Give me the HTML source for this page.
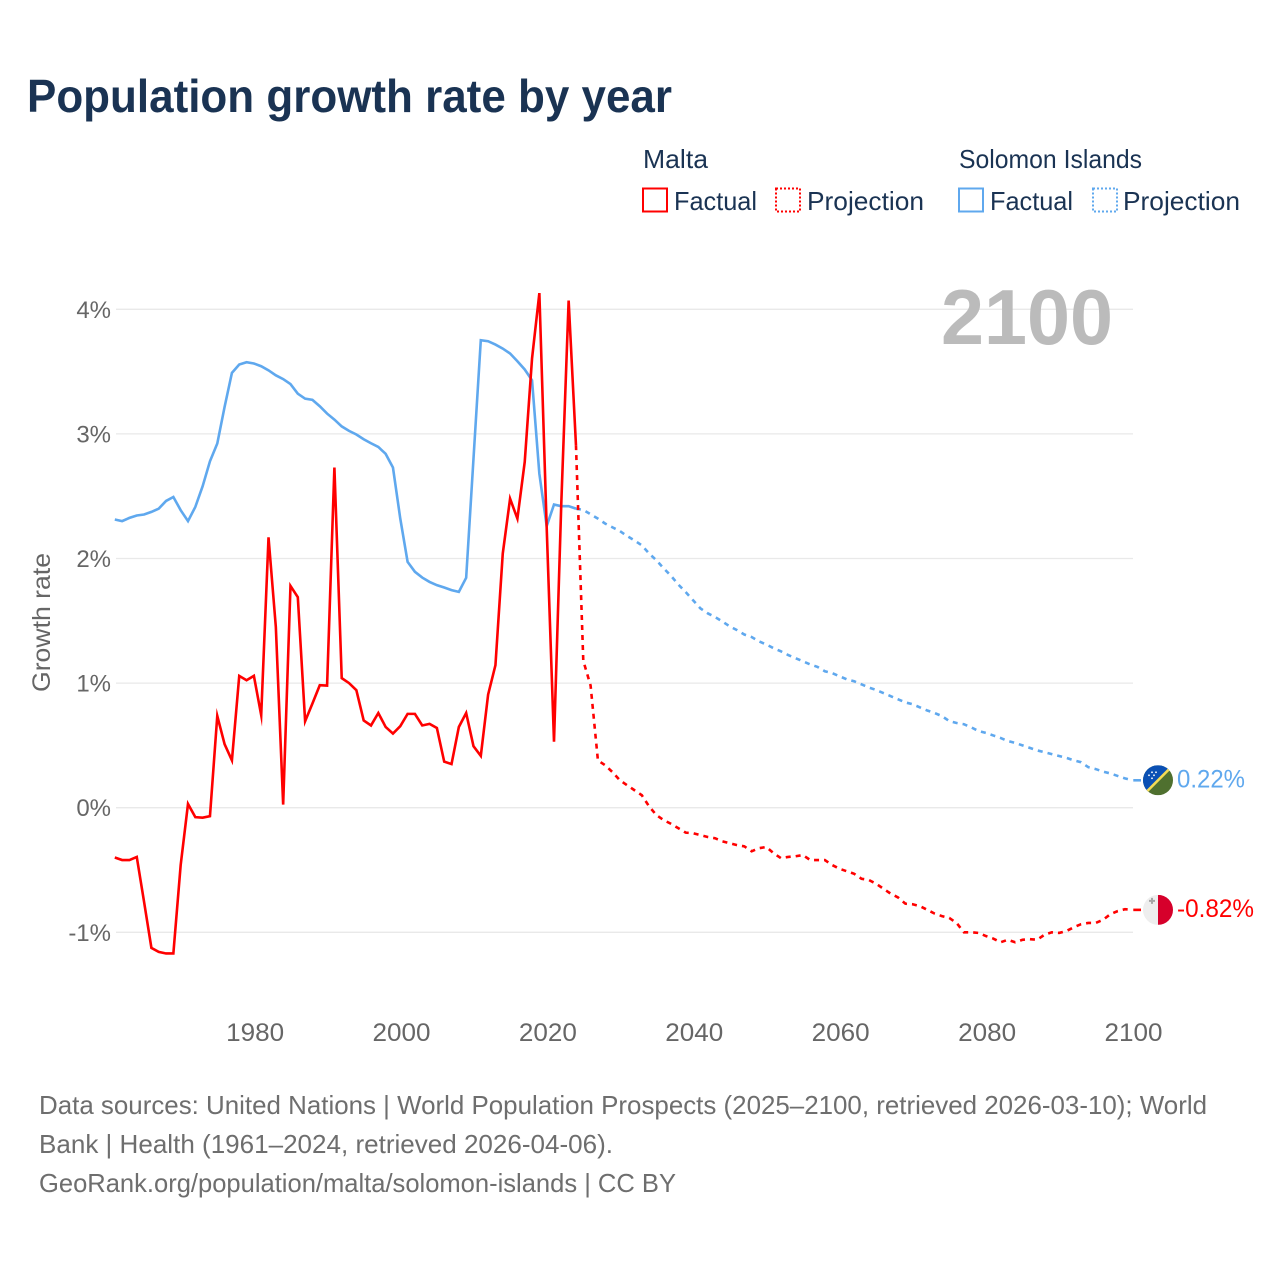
<!DOCTYPE html>
<html lang="en">
<head>
<meta charset="utf-8">
<title>Population growth rate by year</title>
<style>
html,body{margin:0;padding:0;background:#fff;width:1280px;height:1280px;overflow:hidden}
svg{display:block}
text{font-family:"Liberation Sans",sans-serif}
</style>
</head>
<body>
<svg id="chart" xmlns="http://www.w3.org/2000/svg" width="1280" height="1280" viewBox="0 0 1280 1280">
  <defs>
    <clipPath id="flag-clip-solomon"><circle id="clip-solomon-circle" cx="1158" cy="780" r="15"/></clipPath>
    <clipPath id="flag-clip-malta"><circle id="clip-malta-circle" cx="1158" cy="910" r="15"/></clipPath>
  </defs>
  <text x="27" y="112" font-size="46" font-weight="700" fill="#1a3353" textLength="645" lengthAdjust="spacingAndGlyphs">Population growth rate by year</text>

  <g font-size="26" fill="#1a3353">
    <text x="643" y="168" textLength="65" lengthAdjust="spacingAndGlyphs">Malta</text>
    <text x="959" y="168" textLength="183" lengthAdjust="spacingAndGlyphs">Solomon Islands</text>
    <rect x="643" y="188.5" width="24" height="23" fill="none" stroke="#ff0000" stroke-width="2"/>
    <text x="674" y="210" textLength="83" lengthAdjust="spacingAndGlyphs">Factual</text>
    <rect x="776" y="188.5" width="24" height="23" fill="none" stroke="#ff0000" stroke-width="2" stroke-dasharray="2 2"/>
    <text x="807" y="210" textLength="117" lengthAdjust="spacingAndGlyphs">Projection</text>
    <rect x="959" y="188.5" width="24" height="23" fill="none" stroke="#5fa8ee" stroke-width="2"/>
    <text x="990" y="210" textLength="83" lengthAdjust="spacingAndGlyphs">Factual</text>
    <rect x="1093" y="188.5" width="24" height="23" fill="none" stroke="#5fa8ee" stroke-width="2" stroke-dasharray="2 2"/>
    <text x="1123" y="210" textLength="117" lengthAdjust="spacingAndGlyphs">Projection</text>
  </g>

  <g id="grid"></g>
  <g id="y-ticks"></g>
  <g id="x-ticks"></g>
  <text transform="translate(50,622.5) rotate(-90)" text-anchor="middle" font-size="25" fill="#666666" textLength="139" lengthAdjust="spacingAndGlyphs">Growth rate</text>
  <text x="941" y="344" font-size="78" font-weight="700" fill="#bbbbbb" textLength="172" lengthAdjust="spacingAndGlyphs">2100</text>

  <g id="series"></g>

  <g id="flag-solomon">
    <g clip-path="url(#flag-clip-solomon)">
      <rect x="1143" y="765" width="30" height="30" fill="#4f702f"/>
      <polygon points="1143,765 1173,765 1143,795" fill="#0a50b4"/>
      <line x1="1141" y1="797" x2="1175" y2="763" stroke="#f4dc55" stroke-width="2.6"/>
      <circle cx="1152" cy="772" r="0.9" fill="#fff"/>
      <circle cx="1156" cy="772" r="0.9" fill="#fff"/>
      <circle cx="1149" cy="775" r="0.9" fill="#fff"/>
      <circle cx="1154" cy="775" r="0.9" fill="#fff"/>
      <circle cx="1152" cy="778" r="0.9" fill="#fff"/>
    </g>
  </g>
  <g id="flag-malta">
    <g clip-path="url(#flag-clip-malta)">
      <rect x="1143" y="895" width="15" height="30" fill="#eeeeee"/>
      <rect x="1158" y="895" width="15" height="30" fill="#d6002b"/>
      <path d="M1151 898h2v2h2v2h-2v2h-2v-2h-2v-2h2z" fill="#a6a6a6"/>
    </g>
  </g>
  <g id="end-labels"></g>

  <g font-size="26" fill="#6e6e6e">
    <text x="39" y="1114" textLength="1168" lengthAdjust="spacingAndGlyphs">Data sources: United Nations | World Population Prospects (2025–2100, retrieved 2026-03-10); World</text>
    <text x="39" y="1153" textLength="574" lengthAdjust="spacingAndGlyphs">Bank | Health (1961–2024, retrieved 2026-04-06).</text>
    <text x="39" y="1192" textLength="637" lengthAdjust="spacingAndGlyphs">GeoRank.org/population/malta/solomon-islands | CC BY</text>
  </g>
</svg>

<script>
const yTicks = [-1, 0, 1, 2, 3, 4];
const xTicks = [1980, 2000, 2020, 2040, 2060, 2080, 2100];
const factualStartYear = 1961;
const projectionStartYear = 2024;

const maltaFactual = [-0.40,-0.42,-0.42,-0.395,-0.756,-1.125,-1.157,-1.17,-1.17,-0.46,0.03,-0.076,-0.08,-0.068,0.737,0.51,0.38,1.058,1.023,1.058,0.742,2.17,1.45,0.025,1.78,1.69,0.694,0.836,0.983,0.98,2.73,1.04,1.0,0.943,0.70,0.66,0.76,0.648,0.595,0.654,0.753,0.753,0.66,0.673,0.64,0.37,0.35,0.648,0.76,0.494,0.416,0.908,1.144,2.04,2.48,2.32,2.775,3.605,4.13,2.25,0.53,2.45,4.07,2.91];

const maltaProjection = [2.91,1.18,0.98,0.38,0.34,0.285,0.22,0.18,0.14,0.10,0.01,-0.06,-0.10,-0.13,-0.165,-0.20,-0.205,-0.22,-0.235,-0.245,-0.27,-0.285,-0.30,-0.31,-0.35,-0.325,-0.315,-0.365,-0.405,-0.395,-0.39,-0.38,-0.42,-0.42,-0.42,-0.46,-0.49,-0.51,-0.53,-0.57,-0.58,-0.61,-0.65,-0.69,-0.72,-0.77,-0.775,-0.79,-0.82,-0.85,-0.87,-0.885,-0.925,-1.0,-1.0,-1.005,-1.03,-1.05,-1.08,-1.06,-1.08,-1.06,-1.055,-1.06,-1.02,-1.0,-1.005,-0.99,-0.96,-0.935,-0.925,-0.925,-0.90,-0.855,-0.83,-0.815,-0.82];

const solomonFactual = [2.313,2.30,2.326,2.345,2.353,2.374,2.40,2.462,2.494,2.388,2.30,2.414,2.58,2.78,2.923,3.217,3.49,3.557,3.575,3.565,3.543,3.51,3.47,3.44,3.40,3.323,3.283,3.273,3.222,3.163,3.115,3.06,3.024,2.995,2.957,2.925,2.895,2.84,2.73,2.32,1.973,1.893,1.847,1.812,1.786,1.767,1.746,1.732,1.845,2.80,3.752,3.744,3.717,3.685,3.645,3.583,3.517,3.43,2.68,2.26,2.433,2.42,2.42,2.40];

const solomonProjection = [2.40,2.39,2.355,2.32,2.28,2.25,2.22,2.18,2.145,2.105,2.04,1.985,1.92,1.86,1.79,1.73,1.665,1.60,1.56,1.53,1.495,1.455,1.425,1.39,1.37,1.335,1.31,1.28,1.255,1.225,1.20,1.175,1.15,1.13,1.095,1.08,1.055,1.03,1.015,0.99,0.965,0.945,0.92,0.895,0.87,0.845,0.83,0.805,0.78,0.76,0.735,0.695,0.68,0.67,0.645,0.615,0.60,0.58,0.56,0.535,0.52,0.50,0.48,0.46,0.445,0.43,0.415,0.40,0.38,0.365,0.325,0.31,0.29,0.275,0.255,0.235,0.22];

const SVGNS = 'http://www.w3.org/2000/svg';
const xScale = function (year) { return 114.8 + (year - 1961) * 7.32; };
const yScale = function (value) { return 807.7 - value * 124.6; };
const flagX = 1141;

function linePoints(values, startYear) {
  return values.map(function (v, i) {
    return xScale(startYear + i).toFixed(2) + ',' + yScale(v).toFixed(2);
  }).join(' ');
}

function makePolyline(points, color, dashed) {
  const el = document.createElementNS(SVGNS, 'polyline');
  el.setAttribute('points', points);
  el.setAttribute('fill', 'none');
  el.setAttribute('stroke', color);
  el.setAttribute('stroke-width', '2.6');
  el.setAttribute('stroke-linejoin', 'miter');
  el.setAttribute('stroke-miterlimit', '10');
  if (dashed) el.setAttribute('stroke-dasharray', '5 5');
  return el;
}

const gridGroup = document.getElementById('grid');
const yTickGroup = document.getElementById('y-ticks');
yTicks.forEach(function (t) {
  const line = document.createElementNS(SVGNS, 'line');
  
  
  line.setAttribute('x1', 116);
  line.setAttribute('x2', 1133);
  line.setAttribute('y1', yScale(t));
  line.setAttribute('y2', yScale(t));
  line.setAttribute('stroke', '#e9e9e9');
  line.setAttribute('stroke-width', '1.3');
  gridGroup.appendChild(line);

  const label = document.createElementNS(SVGNS, 'text');
  
  
  label.setAttribute('x', 111);
  label.setAttribute('y', yScale(t) + 8.5);
  label.setAttribute('text-anchor', 'end');
  label.setAttribute('font-size', '24');
  label.setAttribute('fill', '#666666');
  label.textContent = t + '%';
  yTickGroup.appendChild(label);
});

const xTickGroup = document.getElementById('x-ticks');
xTicks.forEach(function (t) {
  const label = document.createElementNS(SVGNS, 'text');
  
  
  label.setAttribute('x', xScale(t) + 1.2);
  label.setAttribute('y', 1041);
  label.setAttribute('text-anchor', 'middle');
  label.setAttribute('font-size', '25');
  label.setAttribute('fill', '#666666');
  label.setAttribute('textLength', '58');
  label.setAttribute('lengthAdjust', 'spacingAndGlyphs');
  label.textContent = t;
  xTickGroup.appendChild(label);
});

const seriesGroup = document.getElementById('series');

const solomonFactualLine = makePolyline(linePoints(solomonFactual, factualStartYear), '#5fa8ee', false);


seriesGroup.appendChild(solomonFactualLine);

const maltaFactualLine = makePolyline(linePoints(maltaFactual, factualStartYear), '#ff0000', false);


seriesGroup.appendChild(maltaFactualLine);

const solomonEndValue = solomonProjection[solomonProjection.length - 1];
const maltaEndValue = maltaProjection[maltaProjection.length - 1];

const solomonProjectionLine = makePolyline(linePoints(solomonProjection, projectionStartYear), '#5fa8ee', true);


seriesGroup.appendChild(solomonProjectionLine);

const maltaProjectionLine = makePolyline(linePoints(maltaProjection, projectionStartYear), '#ff0000', true);


seriesGroup.appendChild(maltaProjectionLine);

const solomonConnector = makePolyline((xScale(2100) + 1) + ',' + yScale(solomonEndValue) + ' ' + flagX + ',' + yScale(solomonEndValue), '#5fa8ee', false);


seriesGroup.appendChild(solomonConnector);

const maltaConnector = makePolyline((xScale(2100) + 1) + ',' + yScale(maltaEndValue) + ' ' + flagX + ',' + yScale(maltaEndValue), '#ff0000', false);


seriesGroup.appendChild(maltaConnector);

document.getElementById('flag-solomon').setAttribute('transform', 'translate(0,' + (yScale(solomonEndValue) - 780) + ')');
document.getElementById('flag-malta').setAttribute('transform', 'translate(0,' + (yScale(maltaEndValue) - 910) + ')');

const endLabelGroup = document.getElementById('end-labels');

const solomonEndLabel = document.createElementNS(SVGNS, 'text');


solomonEndLabel.setAttribute('x', 1177);
solomonEndLabel.setAttribute('y', yScale(solomonEndValue) + 7);
solomonEndLabel.setAttribute('font-size', '25');
solomonEndLabel.setAttribute('fill', '#5fa8ee');
solomonEndLabel.setAttribute('textLength', '68');
solomonEndLabel.setAttribute('lengthAdjust', 'spacingAndGlyphs');
solomonEndLabel.textContent = solomonEndValue.toFixed(2) + '%';
endLabelGroup.appendChild(solomonEndLabel);

const maltaEndLabel = document.createElementNS(SVGNS, 'text');


maltaEndLabel.setAttribute('x', 1177);
maltaEndLabel.setAttribute('y', yScale(maltaEndValue) + 7);
maltaEndLabel.setAttribute('font-size', '25');
maltaEndLabel.setAttribute('fill', '#ff0000');
maltaEndLabel.setAttribute('textLength', '77');
maltaEndLabel.setAttribute('lengthAdjust', 'spacingAndGlyphs');
maltaEndLabel.textContent = maltaEndValue.toFixed(2) + '%';
endLabelGroup.appendChild(maltaEndLabel);
</script>
</body>
</html>
